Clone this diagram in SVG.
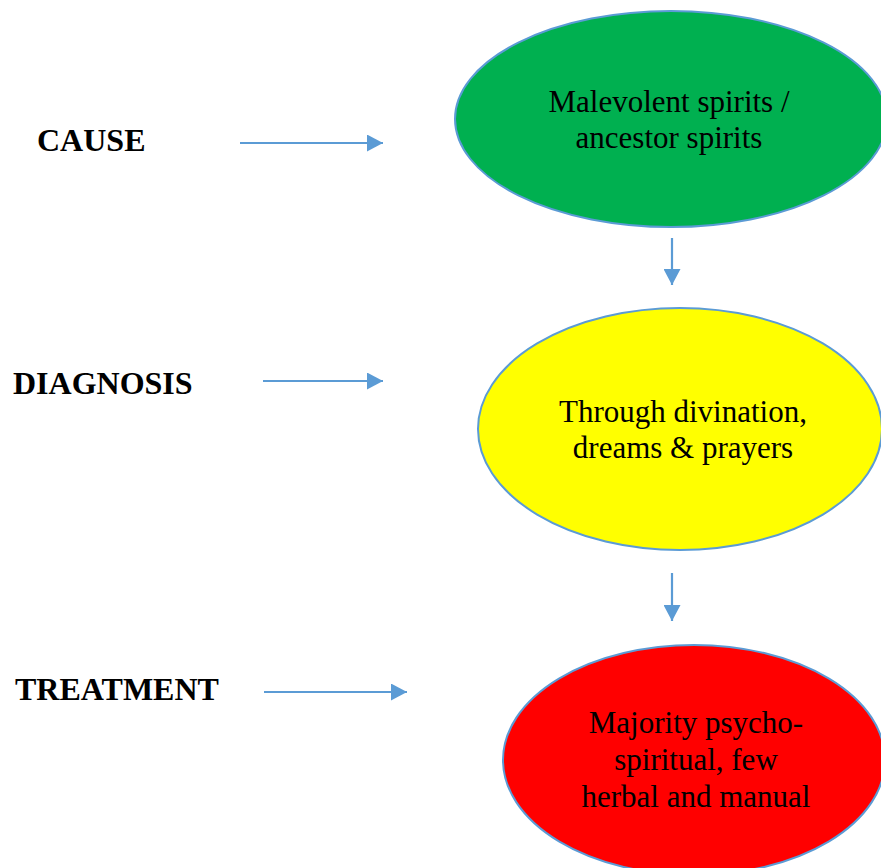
<svg xmlns="http://www.w3.org/2000/svg" width="881" height="868" viewBox="0 0 881 868">
<style>
.lbl{font-family:"Liberation Serif","Times New Roman",serif;font-weight:bold;font-size:32px;fill:#000}
.txt{font-family:"Liberation Serif","Times New Roman",serif;font-size:31px;fill:#000;text-anchor:middle}
.node{stroke:#5b9bd5;stroke-width:2}
.conn{stroke:#5b9bd5;stroke-width:2.2;fill:none;marker-end:url(#ah)}
</style>
<defs>
<marker id="ah" markerUnits="userSpaceOnUse" markerWidth="17" markerHeight="17" viewBox="0 0 17 17" refX="16" refY="8.5" orient="auto">
<path d="M0,0 L16,8.5 L0,17 Z" fill="#5b9bd5"/>
</marker>
</defs>
<rect width="881" height="868" fill="#fff"/>
<g id="labels">
<text class="lbl" x="37" y="151">CAUSE</text>
<text class="lbl" x="13" y="394">DIAGNOSIS</text>
<text class="lbl" x="15" y="700">TREATMENT</text>
</g>
<g id="connectors">
<line class="conn" x1="240" y1="143" x2="383" y2="143"/>
<line class="conn" x1="263" y1="381" x2="383" y2="381"/>
<line class="conn" x1="264" y1="692" x2="407" y2="692"/>
<line class="conn" x1="672" y1="238" x2="672" y2="285"/>
<line class="conn" x1="672" y1="573" x2="672" y2="621"/>
</g>
<g id="cause">
<ellipse class="node" cx="671" cy="119" rx="216" ry="108" fill="#00b050"/>
<text class="txt" x="669" y="112">Malevolent spirits /</text>
<text class="txt" x="669" y="148">ancestor spirits</text>
</g>
<g id="diagnosis">
<ellipse class="node" cx="680" cy="429" rx="202" ry="121" fill="#ffff00"/>
<text class="txt" x="683" y="422">Through divination,</text>
<text class="txt" x="683" y="458">dreams &amp; prayers</text>
</g>
<g id="treatment">
<ellipse class="node" cx="694" cy="760" rx="191" ry="115" fill="#ff0000"/>
<text class="txt" x="696" y="733">Majority psycho-</text>
<text class="txt" x="696" y="770">spiritual, few</text>
<text class="txt" x="696" y="807">herbal and manual</text>
</g>
</svg>
